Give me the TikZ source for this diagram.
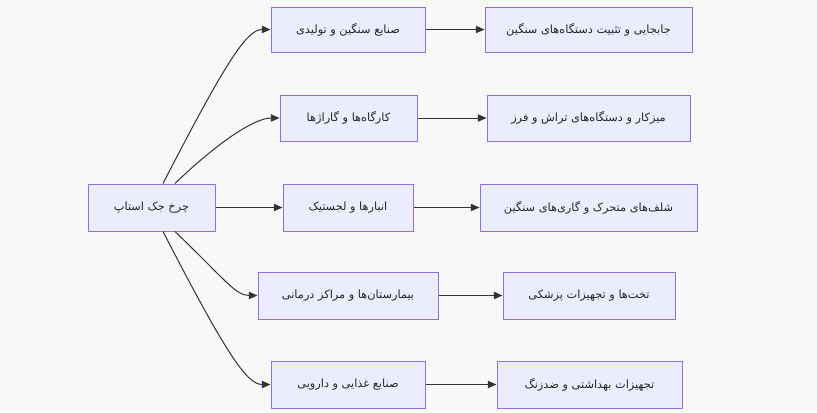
\documentclass[tikz,border=0pt]{standalone}
\usepackage{fontspec}
\usetikzlibrary{arrows.meta}
\TeXXeTstate=1
\newfontfamily\arabicfont[Script=Arabic]{DejaVu Sans}
\definecolor{boxfill}{HTML}{ECECFF}
\definecolor{boxline}{HTML}{9370DB}
\definecolor{edgecol}{HTML}{333333}
\definecolor{bgcol}{HTML}{F8F8F8}
\tikzset{
  box/.style={draw=boxline, fill=boxfill, line width=0.75pt, inner sep=0pt,
    font=\arabicfont\fontsize{8.5}{10}\selectfont, text=black!85},
  edge/.style={draw=edgecol, line width=0.75pt, -{Triangle[length=6.5pt,width=5.5pt]}}
}
\newcommand{\rtl}[1]{\beginR #1\endR}
\begin{document}
\begin{tikzpicture}[x=0.75pt,y=-0.75pt]
\fill[bgcol] (0,0) rectangle (817,412);
\useasboundingbox (0,0) rectangle (817,412);

\node[box, minimum width=95.25pt, minimum height=35.25pt] (root) at (151.5,207.5) {\rtl{چرخ جک استاپ}};

\node[box, minimum width=115.5pt, minimum height=33.75pt] (a1) at (348,29.5) {\rtl{صنایع سنگین و تولیدی}};
\node[box, minimum width=155.25pt, minimum height=33.75pt] (b1) at (588.5,29.5) {\rtl{جابجایی و تثبیت دستگاه‌های سنگین}};

\node[box, minimum width=102.75pt, minimum height=34.5pt] (a2) at (348.5,118) {\rtl{کارگاه‌ها و گاراژها}};
\node[box, minimum width=152.25pt, minimum height=34.5pt] (b2) at (588.5,118) {\rtl{میزکار و دستگاه‌های تراش و فرز}};

\node[box, minimum width=97.5pt, minimum height=35.25pt] (a3) at (348,207.5) {\rtl{انبارها و لجستیک}};
\node[box, minimum width=162.75pt, minimum height=35.25pt] (b3) at (588.5,207.5) {\rtl{شلف‌های متحرک و گاری‌های سنگین}};

\node[box, minimum width=135pt, minimum height=35.25pt] (a4) at (348,295.5) {\rtl{بیمارستان‌ها و مراکز درمانی}};
\node[box, minimum width=129pt, minimum height=35.25pt] (b4) at (589,295.5) {\rtl{تخت‌ها و تجهیزات پزشکی}};

\node[box, minimum width=115.5pt, minimum height=35.25pt] (a5) at (348,384.5) {\rtl{صنایع غذایی و دارویی}};
\node[box, minimum width=138.75pt, minimum height=35.25pt] (b5) at (589.5,384.5) {\rtl{تجهیزات بهداشتی و ضدزنگ}};

% curves from root
\draw[edge] ([xshift=8.6pt]root.north) .. controls +(62,-120) and +(-24,0) .. (a1.west);
\draw[edge] ([xshift=17.6pt]root.north) .. controls +(50,-48) and +(-22,0) .. (a2.west);
\draw[edge] (root.east) -- (a3.west);
\draw[edge] ([xshift=17.6pt]root.south) .. controls +(50,48) and +(-22,0) .. (a4.west);
\draw[edge] ([xshift=8.6pt]root.south) .. controls +(62,120) and +(-24,0) .. (a5.west);

% straight edges
\draw[edge] (a1.east) -- (b1.west);
\draw[edge] (a2.east) -- (b2.west);
\draw[edge] (a3.east) -- (b3.west);
\draw[edge] (a4.east) -- (b4.west);
\draw[edge] (a5.east) -- (b5.west);
\end{tikzpicture}
\end{document}
